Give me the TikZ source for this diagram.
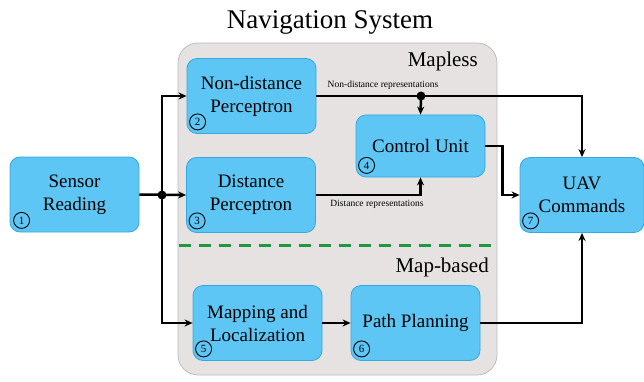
\documentclass[tikz,border=0pt]{standalone}
\usepackage{fontspec}
\newfontfamily\diagfont{Liberation Serif}
\usetikzlibrary{calc,arrows.meta}
\definecolor{boxfill}{HTML}{5EC6F4}
\definecolor{boxline}{HTML}{34A9DF}
\definecolor{panelfill}{HTML}{E6E2E2}
\definecolor{panelline}{HTML}{BEBCBC}
\definecolor{splitgreen}{HTML}{1E9A3C}
\tikzset{
  stagebox/.style={draw=boxline, fill=boxfill, line width=0.8pt, rounded corners=10pt,
    minimum width=129pt, minimum height=75pt, inner sep=2pt, align=center,
    font=\diagfont\fontsize{19}{23}\selectfont},
  numtag/.style={draw, circle, line width=0.9pt, minimum size=16pt, inner sep=0pt,
    font=\diagfont\fontsize{11}{11}\selectfont},
  flow/.style={line width=2.5pt, -{Stealth[length=8pt,width=7pt]}},
  joint/.style={fill, circle, minimum size=9pt, inner sep=0pt},
  tag/.style={font=\diagfont\fontsize{9.5}{10}\selectfont, inner sep=1pt},
  zonelabel/.style={anchor=east, inner sep=0pt, font=\diagfont\fontsize{21}{24}\selectfont}
}
\begin{document}
\begin{tikzpicture}[x=1pt,y=-1pt,font=\diagfont]
\useasboundingbox (0,0) rectangle (644,382);

% title
\node[font=\diagfont\fontsize{27}{30}\selectfont] (title) at (330,22) {Navigation System};

% navigation-system panel
\draw[fill=panelfill, draw=panelline, line width=0.8pt, rounded corners=20pt]
  (178,43) rectangle (497,375);
\node[zonelabel] (mapless) at (478,61) {Mapless};
\node[zonelabel] (mapbased) at (489,267) {Map-based};
\draw[splitgreen, line width=3pt, dash pattern=on 12pt off 8pt] (179,245) -- (497,245);

% stages
\node[stagebox] (sr) at (74.5,194.5) {Sensor\\Reading};
\node[stagebox] (nd) at (251.5,96) {Non-distance\\Perceptron};
\node[stagebox] (dp) at (251,195) {Distance\\Perceptron};
\node[stagebox, minimum height=62pt] (cu) at (420.5,146) {Control Unit};
\node[stagebox] (ml) at (257.5,323) {Mapping and\\Localization};
\node[stagebox] (pp) at (415.5,323) {Path Planning};
\node[stagebox, minimum width=124pt] (uav) at (582,195) {UAV\\Commands};

% step numbers
\node[numtag] (n1) at ($(sr.south west)+(12,-12)$) {1};
\node[numtag] (n2) at ($(nd.south west)+(11,-12)$) {2};
\node[numtag] (n3) at ($(dp.south west)+(11,-12)$) {3};
\node[numtag] (n4) at ($(cu.south west)+(11,-12)$) {4};
\node[numtag] (n5) at ($(ml.south west)+(11,-12)$) {5};
\node[numtag] (n6) at ($(pp.south west)+(11,-12)$) {6};
\node[numtag] (n7) at ($(uav.south west)+(11,-12)$) {7};

% branch points
\node[joint] (j1) at (162,195) {};
\node[joint] (j2) at (421,96) {};

% connectors
\draw[flow] (sr.east) -- (dp.west);
\draw[flow] (j1.center) |- (nd.west);
\draw[flow] (j1.center) |- (ml.west);
\draw[flow] (nd.east) -| (uav.north);
\draw[flow] (j2.center) -- (cu.north);
\draw[flow] (dp.east) -| (cu.south);
\draw[flow] (cu.east) -| ($(cu.east)!0.5!(uav.west)$) |- (uav.west);
\draw[flow] (ml.east) -- (pp.west);
\draw[flow] (pp.east) -| (uav.south);

% connector labels
\node[tag, anchor=south] (ndl) at (383,91) {Non-distance representations};
\node[tag, anchor=north] (dl) at (377,199) {Distance representations};
\end{tikzpicture}
\end{document}
